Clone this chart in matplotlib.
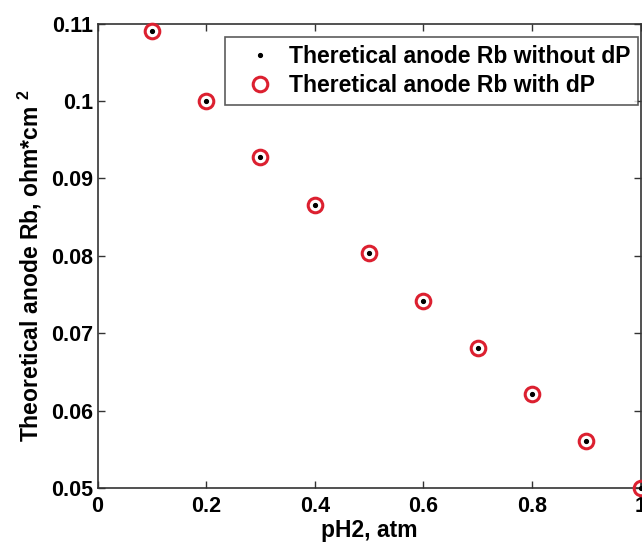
import matplotlib
matplotlib.use("Agg")
import matplotlib.pyplot as plt

ph2 = [0.1, 0.2, 0.3, 0.4, 0.5, 0.6, 0.7, 0.8, 0.9, 1.0]
rb_without_dp = [0.1090, 0.1000, 0.0928, 0.0866, 0.0803, 0.0741, 0.0681, 0.0621, 0.0561, 0.0500]
rb_with_dp = [0.1090, 0.1000, 0.0928, 0.0866, 0.0803, 0.0741, 0.0681, 0.0621, 0.0561, 0.0500]
xticks = [0, 0.2, 0.4, 0.6, 0.8, 1]
xticklabels = ["0", "0.2", "0.4", "0.6", "0.8", "1"]
yticks = [0.05, 0.06, 0.07, 0.08, 0.09, 0.10, 0.11]
yticklabels = ["0.05", "0.06", "0.07", "0.08", "0.09", "0.1", "0.11"]

plt.rcParams['font.family'] = ['Liberation Sans', 'DejaVu Sans']
plt.rcParams['font.weight'] = 'bold'
plt.rcParams['mathtext.fontset'] = 'custom'
plt.rcParams['mathtext.bf'] = 'Liberation Sans:bold'
plt.rcParams['mathtext.rm'] = 'Liberation Sans:bold'

W, H = 642, 544
fig = plt.figure(figsize=(W / 100, H / 100), dpi=100)
left, right, top, bottom = 97.5, 640.5, 23.5, 488
ax = fig.add_axes([left / W, 1 - bottom / H, (right - left) / W, (bottom - top) / H])

ax.plot(ph2, rb_without_dp, linestyle='none', marker='.', color='black', markersize=5.5,
        label='Theretical anode Rb without dP', clip_on=False, zorder=4)
ax.plot(ph2, rb_with_dp, linestyle='none', marker='o', markerfacecolor='none',
        markeredgecolor='#dc2030', markeredgewidth=2.2, markersize=10.5,
        label='Theretical anode Rb with dP', clip_on=False, zorder=3)

ax.set_xlim(0, 1)
ax.set_ylim(0.05, 0.11)
ax.set_xticks(xticks)
ax.set_xticklabels(xticklabels)
ax.set_yticks(yticks)
ax.set_yticklabels(yticklabels)
ax.tick_params(direction='in', length=5, width=1, labelsize=15.5, top=True, right=True,
               color='#333333', pad=3)
ax.tick_params(axis='x', pad=6)
for lab in ax.get_xticklabels() + ax.get_yticklabels():
    lab.set_fontweight('bold')
for sp in ax.spines.values():
    sp.set_linewidth(1.2)
    sp.set_color('#333333')

ax.set_xlabel('pH2, atm', fontsize=16.5, fontweight='bold', labelpad=1)
ax.set_ylabel('Theoretical anode Rb, ohm*cm $^{\\mathbf{2}}$', fontsize=16.5,
              fontweight='bold')
ax.yaxis.set_label_coords(-0.098, 0.478)

leg = ax.legend(loc='upper right', bbox_to_anchor=(0.996, 0.972),
                prop={'weight': 'bold', 'size': 16.5}, frameon=True, fancybox=False,
                edgecolor='#333333', borderpad=0.35, handletextpad=0.1, handlelength=2.35,
                labelspacing=0.28, borderaxespad=0)
leg.get_frame().set_linewidth(1.2)

fig.savefig('out.png', dpi=100)
